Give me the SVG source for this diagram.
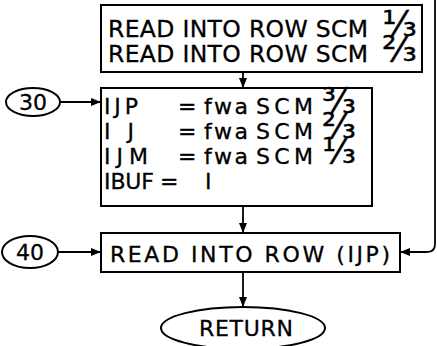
<svg xmlns="http://www.w3.org/2000/svg" width="437" height="346" viewBox="0 0 437 346">
<style>
.box{fill:#fff;stroke:#000;stroke-width:2}
.t{font-family:"DejaVu Sans","Liberation Sans",sans-serif;fill:#000;stroke:#000;stroke-width:0.3}
.f{font-family:"DejaVu Sans","Liberation Sans",sans-serif;fill:#000;stroke:#000;stroke-width:0.4}
.c{fill:none;stroke:#000;stroke-width:1.8}
</style>
<defs>
<marker id="ah" markerWidth="10" markerHeight="8" refX="9" refY="4" orient="auto" markerUnits="userSpaceOnUse">
<path d="M0,0 L10,4 L0,8 Z" fill="#000"/>
</marker>
</defs>
<rect width="437" height="346" fill="#fff"/>
<g id="connectors">
<path class="c" d="M243,72 V87" marker-end="url(#ah)"/>
<path class="c" d="M60,102 H100" marker-end="url(#ah)"/>
<path class="c" d="M243,206 V232" marker-end="url(#ah)"/>
<path class="c" d="M58,252 H100" marker-end="url(#ah)"/>
<path class="c" d="M435,0 V244 Q435,252 427,252 H401" marker-end="url(#ah)"/>
<path class="c" d="M243,272 V306" marker-end="url(#ah)"/>
</g>
<g id="read12">
<rect class="box" x="101" y="5" width="321" height="67"/>
<text class="t" x="108" y="37" font-size="23.5" textLength="260" lengthAdjust="spacing">READ INTO ROW SCM</text>
<text class="t" x="108" y="62" font-size="23.5" textLength="260" lengthAdjust="spacing">READ INTO ROW SCM</text>
<text class="f" x="382" y="36" font-size="36">¹⁄₃</text>
<text class="f" x="382" y="61" font-size="36">²⁄₃</text>
</g>
<g id="n30">
<ellipse class="box" cx="33" cy="102" rx="27" ry="14"/>
<text class="t" x="33" y="110" font-size="22" text-anchor="middle">30</text>
</g>
<g id="assign">
<rect class="box" x="101" y="88" width="271" height="118"/>
<g class="t" font-size="22">
<text x="104" y="114" textLength="34" lengthAdjust="spacing">IJP</text>
<text x="104" y="139" textLength="30" lengthAdjust="spacing">IJ</text>
<text x="104" y="164" textLength="44" lengthAdjust="spacing">IJM</text>
<text x="104" y="189" textLength="50" lengthAdjust="spacing">IBUF</text>
<text x="178" y="114">=</text>
<text x="178" y="139">=</text>
<text x="178" y="164">=</text>
<text x="160" y="189">=</text>
<text x="204" y="114" textLength="44" lengthAdjust="spacing">fwa</text>
<text x="204" y="139" textLength="44" lengthAdjust="spacing">fwa</text>
<text x="204" y="164" textLength="44" lengthAdjust="spacing">fwa</text>
<text x="205" y="189">I</text>
<text x="256" y="114" textLength="57" lengthAdjust="spacing">SCM</text>
<text x="256" y="139" textLength="57" lengthAdjust="spacing">SCM</text>
<text x="256" y="164" textLength="57" lengthAdjust="spacing">SCM</text>
</g>
<text class="f" x="322" y="113" font-size="35">³⁄₃</text>
<text class="f" x="322" y="138" font-size="35">²⁄₃</text>
<text class="f" x="322" y="163" font-size="35">¹⁄₃</text>
</g>
<g id="n40">
<ellipse class="box" cx="30" cy="252" rx="28" ry="16"/>
<text class="t" x="30" y="260" font-size="22" text-anchor="middle">40</text>
</g>
<g id="readijp">
<rect class="box" x="101" y="233" width="299" height="39"/>
<text class="t" x="110" y="262" font-size="22" textLength="280" lengthAdjust="spacing">READ INTO ROW (IJP)</text>
</g>
<g id="return">
<ellipse class="box" cx="243" cy="328" rx="82" ry="21"/>
<text class="t" x="246" y="336" font-size="22" text-anchor="middle" textLength="94" lengthAdjust="spacing">RETURN</text>
</g>
</svg>
